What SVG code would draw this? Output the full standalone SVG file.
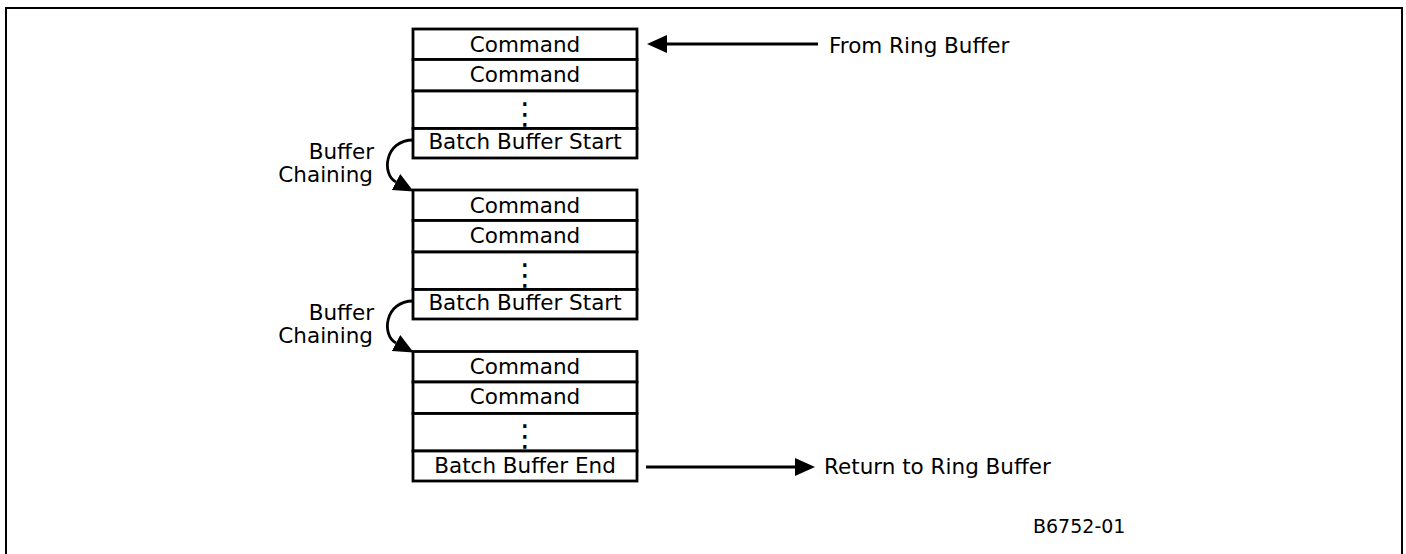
<svg xmlns="http://www.w3.org/2000/svg" width="1406" height="554" viewBox="0 0 1406 554">
<defs>
<style>
.frame{fill:none;stroke:#000;stroke-width:2}
.row{fill:#fff;stroke:#000;stroke-width:2.8}
.t{font-family:"DejaVu Sans","Verdana",sans-serif;font-size:21.5px;fill:#000}
.c{text-anchor:middle}
.e{text-anchor:end}
.d{font-size:30px}
.ln{fill:none;stroke:#000;stroke-width:2.8}
</style>
<marker id="ah" markerUnits="userSpaceOnUse" markerWidth="22" markerHeight="20" refX="0" refY="9" orient="auto" viewBox="0 0 22 20">
<path d="M0,0 L20,9 L0,18 z" fill="#000"/>
</marker>
</defs>
<rect width="1406" height="554" fill="#fff"/>
<rect class="frame" x="6" y="8" width="1396" height="560"/>

<g id="stack1">
<g id="s1r1"><rect class="row" x="413" y="29" width="224" height="30.5"/><text class="t c" x="525" y="52">Command</text></g>
<g id="s1r2"><rect class="row" x="413" y="59.5" width="224" height="31.5"/><text class="t c" x="525" y="82">Command</text></g>
<g id="s1r3"><rect class="row" x="413" y="91" width="224" height="37.5"/><text class="t c d" x="525" y="123.5">⋮</text></g>
<g id="s1r4"><rect class="row" x="413" y="128.5" width="224" height="29.5"/><text class="t c" x="525" y="149">Batch Buffer Start</text></g>
</g>

<g id="stack2">
<g id="s2r1"><rect class="row" x="413" y="190" width="224" height="30.5"/><text class="t c" x="525" y="213">Command</text></g>
<g id="s2r2"><rect class="row" x="413" y="220.5" width="224" height="31.5"/><text class="t c" x="525" y="243">Command</text></g>
<g id="s2r3"><rect class="row" x="413" y="252" width="224" height="37.5"/><text class="t c d" x="525" y="284.5">⋮</text></g>
<g id="s2r4"><rect class="row" x="413" y="289.5" width="224" height="29.5"/><text class="t c" x="525" y="310">Batch Buffer Start</text></g>
</g>

<g id="stack3">
<g id="s3r1"><rect class="row" x="413" y="351.5" width="224" height="30.5"/><text class="t c" x="525" y="374">Command</text></g>
<g id="s3r2"><rect class="row" x="413" y="382" width="224" height="31.5"/><text class="t c" x="525" y="404">Command</text></g>
<g id="s3r3"><rect class="row" x="413" y="413.5" width="224" height="37.5"/><text class="t c d" x="525" y="446">⋮</text></g>
<g id="s3r4"><rect class="row" x="413" y="451" width="224" height="30"/><text class="t c" x="525" y="472.5">Batch Buffer End</text></g>
</g>

<g id="connectors">
<line class="ln" x1="818" y1="44" x2="667" y2="44" marker-end="url(#ah)"/>
<line class="ln" x1="646" y1="467" x2="795" y2="467" marker-end="url(#ah)"/>
<path class="ln" d="M413,140 C385,140 381,174 396,182" marker-end="url(#ah)"/>
<path class="ln" d="M413,301 C385,301 381,335 396,343" marker-end="url(#ah)"/>
</g>

<g id="labels">
<text class="t" x="829" y="53">From Ring Buffer</text>
<text class="t" x="824" y="473.5">Return to Ring Buffer</text>
<text class="t e" x="374" y="159">Buffer</text>
<text class="t e" x="373" y="182">Chaining</text>
<text class="t e" x="374" y="320">Buffer</text>
<text class="t e" x="373" y="343">Chaining</text>
<text class="t" x="1033" y="533" style="font-size:19px">B6752-01</text>
</g>
</svg>
